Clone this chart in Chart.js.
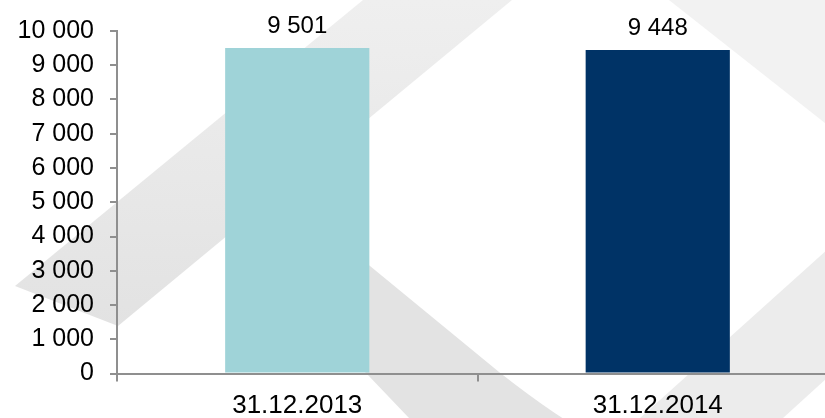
<!DOCTYPE html>
<html><head><meta charset="utf-8">
<script src="https://cdn.jsdelivr.net/npm/chart.js@4"></script>
<style>
html,body{margin:0;padding:0;overflow:hidden;background:#fff;width:825px;height:418px}
#wrap{position:absolute;left:0;top:0;width:838px;height:440px}
</style>
</head><body><div id="wrap"><canvas id="c" width="838" height="440"></canvas></div>
<script>
const categories = ['31.12.2013', '31.12.2014'];
const values = [9501, 9448];
const barColors = ['#9fd3d8', '#003366'];
const yMin = 0, yMax = 10000, yStep = 1000;

const fmt = v => String(Math.round(v)).replace(/\B(?=(\d{3})+(?!\d))/g, ' ');
const FONT = "'Liberation Sans', Arial, sans-serif";
const AXIS = '#8f8f8f';

const watermark = {
  id: 'watermark',
  beforeDraw(chart) {
    const ctx = chart.ctx;
    ctx.save();
    ctx.fillStyle = '#ffffff';
    ctx.fillRect(0, 0, chart.width, chart.height);
    const poly = (pts, col) => {
      ctx.beginPath();
      ctx.moveTo(pts[0][0], pts[0][1]);
      for (let i = 1; i < pts.length; i++) ctx.lineTo(pts[i][0], pts[i][1]);
      ctx.closePath();
      ctx.fillStyle = col;
      ctx.fill();
    };
    // band A (rising to the upper right), lighter towards the top
    const gA = ctx.createLinearGradient(0, 0, 0, 330);
    gA.addColorStop(0, '#efefef');
    gA.addColorStop(1, '#e2e2e2');
    poly([[15, 286], [363, 0], [512, 0], [118, 326]], gA);
    // band D (top right, light)
    poly([[669, 0], [838, 0], [838, 134], [825, 123]], '#f2f2f2');
    // band C (bottom right, light)
    poly([[640, 418], [838, 240], [838, 368], [783, 418], [783, 440], [640, 440]], '#ececec');
    // band B (falling to the lower right, with curved end)
    ctx.beginPath();
    ctx.moveTo(250, 168);
    ctx.lineTo(370, 266);
    ctx.lineTo(499, 372);
    ctx.quadraticCurveTo(560, 420, 600, 440);
    ctx.lineTo(430, 440);
    ctx.lineTo(367, 374);
    ctx.lineTo(300, 310);
    ctx.closePath();
    ctx.fillStyle = '#e3e3e3';
    ctx.fill();
    ctx.restore();
  }
};

const valueLabels = {
  id: 'valueLabels',
  afterDatasetsDraw(chart) {
    const ctx = chart.ctx;
    const meta = chart.getDatasetMeta(0);
    ctx.save();
    ctx.font = '24px ' + FONT;
    ctx.fillStyle = '#000';
    ctx.textAlign = 'center';
    ctx.textBaseline = 'alphabetic';
    meta.data.forEach((bar, i) => {
      ctx.fillText(fmt(values[i]), bar.x, bar.y - 15);
    });
    ctx.restore();
  }
};

new Chart(document.getElementById('c'), {
  type: 'bar',
  data: {
    labels: categories,
    datasets: [{
      data: values,
      backgroundColor: barColors,
      borderWidth: 0,
      barPercentage: 0.4,
      categoryPercentage: 1.0
    }]
  },
  options: {
    responsive: false,
    devicePixelRatio: 1,
    animation: false,
    events: [],
    layout: { padding: { top: 30, left: 0, right: 0, bottom: 0 } },
    plugins: { legend: { display: false }, tooltip: { enabled: false } },
    scales: {
      x: {
        grid: { display: true, drawOnChartArea: false, drawTicks: true, tickLength: 8, color: AXIS, lineWidth: 2, offset: true },
        border: { display: true, color: AXIS, width: 2 },
        ticks: { color: '#000', font: { family: FONT, size: 26 }, padding: 9, maxRotation: 0 },
        afterFit(s) { s.height = 66.5; }
      },
      y: {
        min: yMin, max: yMax,
        grid: { display: true, drawOnChartArea: false, drawTicks: true, tickLength: 7, color: AXIS, lineWidth: 2 },
        border: { display: true, color: AXIS, width: 2 },
        ticks: { stepSize: yStep, color: '#000', font: { family: FONT, size: 25 }, padding: 16, callback: v => fmt(v) },
        afterFit(s) { s.width = 117; }
      }
    }
  },
  plugins: [watermark, valueLabels]
});
</script>
</body></html>
